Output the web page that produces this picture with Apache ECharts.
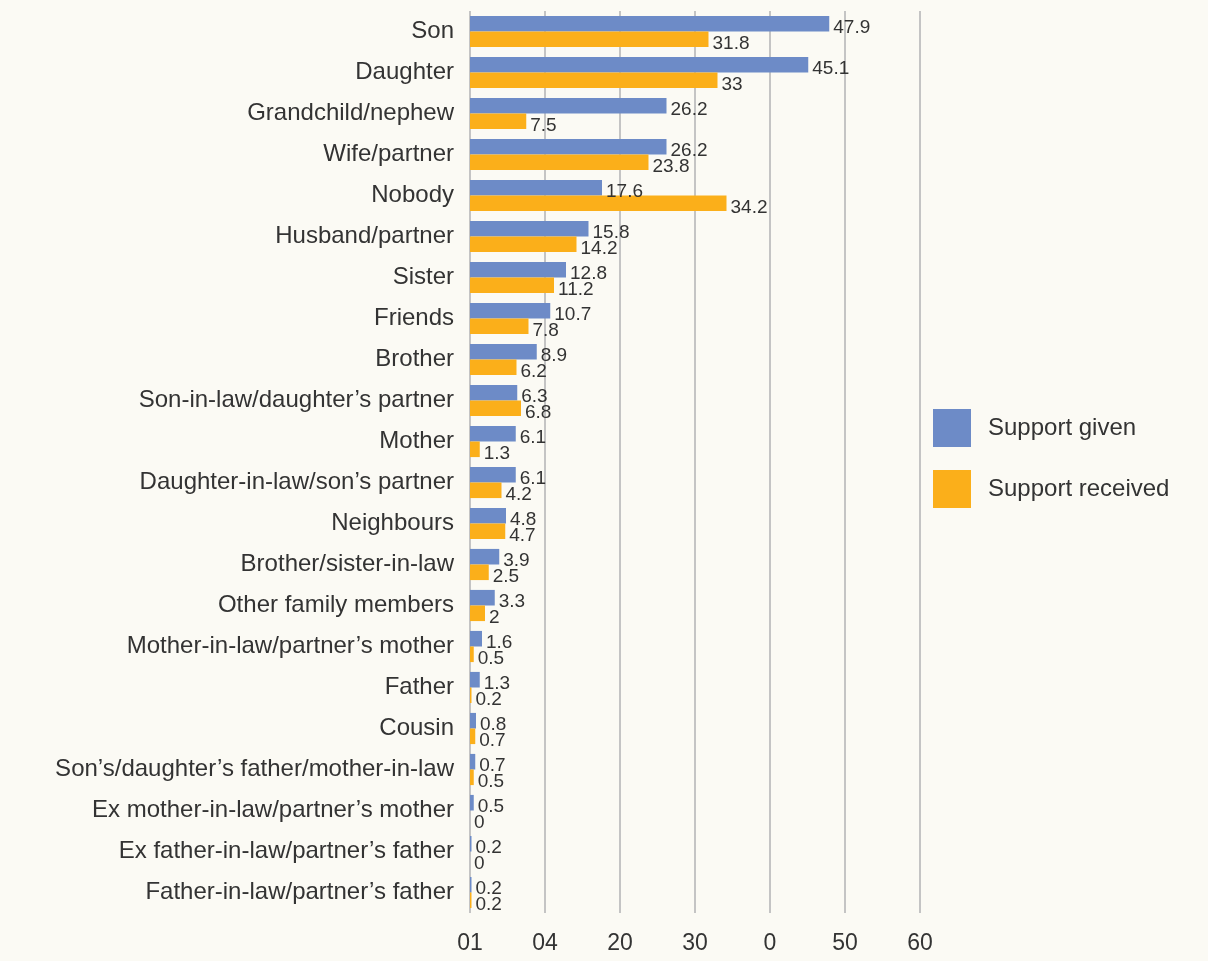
<!DOCTYPE html>
<html>
<head>
<meta charset="utf-8">
<script src="https://cdn.jsdelivr.net/npm/echarts@6/dist/echarts.min.js"></script>
<style>
  html, body { margin: 0; padding: 0; background: #fbfaf4; }
  #chart { width: 1208px; height: 961px; }
</style>
</head>
<body>
<div id="chart"></div>
<script>
const categories = [
  'Son', 'Daughter', 'Grandchild/nephew', 'Wife/partner', 'Nobody', 'Husband/partner',
  'Sister', 'Friends', 'Brother', 'Son-in-law/daughter\u2019s partner', 'Mother',
  'Daughter-in-law/son\u2019s partner', 'Neighbours', 'Brother/sister-in-law',
  'Other family members', 'Mother-in-law/partner\u2019s mother', 'Father', 'Cousin',
  'Son\u2019s/daughter\u2019s father/mother-in-law', 'Ex mother-in-law/partner\u2019s mother',
  'Ex father-in-law/partner\u2019s father', 'Father-in-law/partner\u2019s father'
]
const supportGiven = [47.9, 45.1, 26.2, 26.2, 17.6, 15.8, 12.8, 10.7, 8.9, 6.3, 6.1, 6.1, 4.8, 3.9, 3.3, 1.6, 1.3, 0.8, 0.7, 0.5, 0.2, 0.2]
const supportReceived = [31.8, 33, 7.5, 23.8, 34.2, 14.2, 11.2, 7.8, 6.2, 6.8, 1.3, 4.2, 4.7, 2.5, 2, 0.5, 0.2, 0.7, 0.5, 0, 0, 0.2]
const tickLabels = ['01', '04', '20', '30', '0', '50', '60']

const font = 'Liberation Sans, Arial, sans-serif'
const myChart = echarts.init(document.getElementById('chart'))

function barLabel() {
  return {
    show: true,
    position: 'right',
    distance: 4,
    offset: [0, 4],
    color: '#333',
    fontSize: 19,
    fontFamily: font
  }
}

myChart.setOption({
  backgroundColor: '#fbfaf4',
  animation: false,
  grid: {
    left: 470,
    right: 288,
    top: 11,
    bottom: 48
  },
  legend: {
    orient: 'vertical',
    left: 928,
    top: 404,
    itemWidth: 38,
    itemHeight: 38,
    itemGap: 23,
    icon: 'rect',
    textStyle: { fontSize: 24, color: '#333', fontFamily: font, padding: [12, 0, 0, 12] },
    data: ['Support given', 'Support received']
  },
  xAxis: {
    type: 'value',
    min: 0,
    max: 60,
    interval: 10,
    axisLine: { show: false },
    axisTick: { show: false },
    splitLine: { show: true, lineStyle: { color: '#c4c4c4', width: 2 } },
    axisLabel: {
      margin: 19,
      fontSize: 23,
      color: '#333',
      fontFamily: font,
      formatter: (v) => tickLabels[Math.round(v / 10)]
    }
  },
  yAxis: {
    type: 'category',
    inverse: true,
    data: categories,
    axisLine: { show: false },
    axisTick: { show: false },
    axisLabel: {
      margin: 16,
      fontSize: 24,
      color: '#333',
      fontFamily: font
    }
  },
  series: [
    {
      name: 'Support given',
      type: 'bar',
      data: supportGiven,
      itemStyle: { color: '#6d8bc7' },
      barGap: '0%',
      barCategoryGap: '24%',
      label: barLabel()
    },
    {
      name: 'Support received',
      type: 'bar',
      data: supportReceived,
      itemStyle: { color: '#fbaf1a' },
      label: barLabel()
    }
  ]
})
</script>
</body>
</html>
